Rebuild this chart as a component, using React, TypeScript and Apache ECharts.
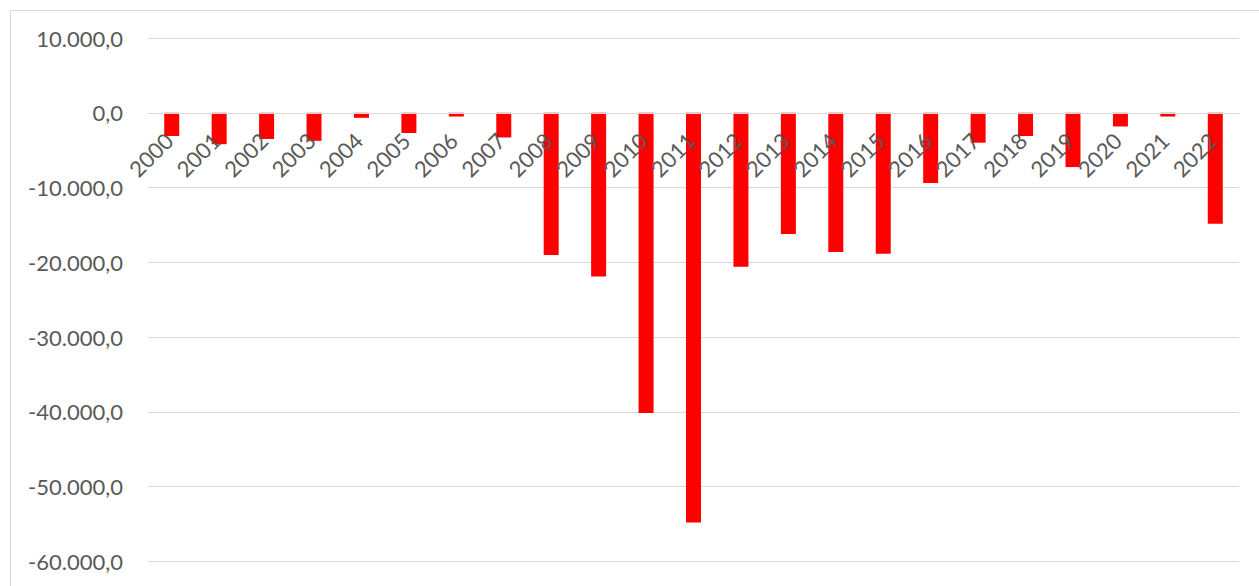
import React, { useEffect, useRef } from "react";
import * as echarts from "echarts";

const categories = [
  "2000", "2001", "2002", "2003", "2004", "2005", "2006", "2007", "2008", "2009", "2010", "2011",
  "2012", "2013", "2014", "2015", "2016", "2017", "2018", "2019", "2020", "2021", "2022",
];

const values = [
  -3100, -4200, -3500, -3750, -670, -2700, -500, -3300, -19000, -21900, -40150, -54800,
  -20600, -16200, -18600, -18850, -9400, -4000, -3100, -7260, -1830, -500, -14850,
];

const yMin = -60000;
const yMax = 10000;
const yStep = 10000;

function fmt(v: number): string {
  const neg = v < 0;
  const s = Math.abs(Math.round(v)).toString().replace(/\B(?=(\d{3})+(?!\d))/g, ".");
  return (neg ? "-" : "") + s + ",0";
}

const GRID_TOP = 38;
const GRID_BOTTOM = 24.5;
const CHART_H = 586;

export default function App() {
  const ref = useRef<HTMLDivElement>(null);
  useEffect(() => {
    if (!ref.current) return;
    const chart = echarts.init(ref.current, null, { renderer: "svg" });
    const plotH = CHART_H - GRID_TOP - GRID_BOTTOM;
    const zeroOffset = -plotH * (0 - yMin) / (yMax - yMin);
    chart.setOption({
      animation: false,
      backgroundColor: "#ffffff",
      textStyle: { fontFamily: "Lato" },
      graphic: [
        {
          type: "rect",
          shape: { x: 10.5, y: 10.5, width: 1400, height: 800 },
          style: { fill: "none", stroke: "#d9d9d9", lineWidth: 1 },
          silent: true,
        },
      ],
      grid: {
        left: 148,
        right: 20,
        top: GRID_TOP,
        bottom: GRID_BOTTOM,
        containLabel: false,
        outerBoundsMode: "none",
      },
      xAxis: {
        type: "category",
        data: categories,
        position: "bottom",
        offset: zeroOffset,
        z: 5,
        axisLine: { show: true, onZero: false, lineStyle: { color: "#d9d9d9", width: 1 } },
        axisTick: { show: false },
        axisLabel: {
          rotate: 45,
          margin: 21,
          padding: [0, 4, 0, 0],
          interval: 0,
          color: "#595959",
          fontSize: 22,
          fontFamily: "Lato",
        },
      },
      yAxis: {
        type: "value",
        min: yMin,
        max: yMax,
        interval: yStep,
        axisLine: { show: false },
        axisTick: { show: false },
        splitLine: { lineStyle: { color: "#d9d9d9", width: 1 } },
        axisLabel: {
          color: "#595959",
          fontSize: 22,
          fontFamily: "Lato",
          margin: 25,
          formatter: (v: number) => fmt(v),
        },
      },
      series: [
        {
          type: "bar",
          data: values,
          barWidth: 15,
          itemStyle: { color: "#ff0000" },
          z: 1,
        },
      ],
    });
    return () => chart.dispose();
  }, []);
  return (
    <div
      ref={ref}
      style={{ position: "fixed", left: 0, top: 0, width: 1259, height: 586 }}
    />
  );
}
